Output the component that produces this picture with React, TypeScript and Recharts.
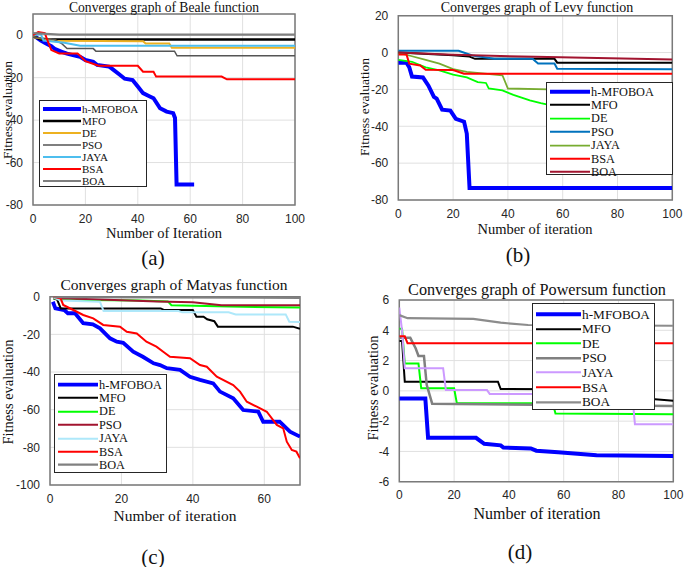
import React from "react";
import {
  CartesianGrid,
  Legend,
  Line,
  LineChart,
  ReferenceArea,
  XAxis,
  YAxis,
} from "recharts";

type Pt = [number, number];

const ALGOS = ["h-MFOBOA", "MFO", "DE", "PSO", "JAYA", "BSA", "BOA"];

// (a) Beale
const bealeHybrid: Pt[] = [[0, 0], [1, -0.8], [3, -2.5], [5, -3.9], [7, -5.2], [8.5, -6.6], [11, -7.8], [13, -8.7], [16, -9.6], [18, -10.2], [20, -11.7], [23, -12.5], [24.5, -14], [29, -14.8], [30, -15.6], [33, -18.5], [35, -20.5], [38, -21.1], [40, -24.2], [42, -27.3], [44, -28.5], [46, -29.7], [48.5, -34.4], [51, -36], [53.5, -36.7], [54.2, -39], [54.8, -70.3], [61.5, -70.3]];
const bealeMfo: Pt[] = [[0, -0.5], [3, -2], [100, -2]];
const bealeDe: Pt[] = [[0, -1], [5, -1.8], [9, -2.6], [42, -2.8], [43, -3.9], [52, -3.9], [53, -5.9], [100, -5.9]];
const bealePso: Pt[] = [[0, -1], [8, -2], [11, -4], [13, -6.3], [23, -6.3], [24, -7.5], [54, -7.5], [55, -9.7], [100, -9.7]];
const bealeJaya: Pt[] = [[0, 0], [3, 0.5], [4, -2.5], [12, -3.5], [16, -4.5], [18, -5], [100, -5]];
const bealeBsa: Pt[] = [[0, 0], [2, 1.5], [4.5, 1], [6, -4], [7, -7], [10, -8.6], [17, -8.6], [18, -9.7], [20, -12.2], [25, -14.4], [40, -14.4], [42, -17.2], [46, -17.2], [47, -19.5], [72, -19.5], [74, -20.8], [100, -20.8]];
const bealeBoa: Pt[] = [[0, 1], [10, 0.3], [100, 0.3]];

// (b) Levy
const levyHybrid: Pt[] = [[0, -5.5], [3, -5.5], [4, -8], [5, -13], [9, -13.5], [11, -18], [13, -24], [14, -25], [16, -31], [19, -31.5], [21, -36], [24, -37.5], [25, -44], [26, -73.5], [100, -73.5]];
const levyMfo: Pt[] = [[0, 0], [20, -1.5], [26, -2.2], [28, -3.4], [57, -3.4], [58, -5.5], [100, -5.5]];
const levyDe: Pt[] = [[0, -4], [5, -5], [10, -8], [15, -9.7], [20, -12], [25, -13.5], [29, -16], [32, -16.5], [33, -19.5], [38, -20.5], [42, -23], [45, -24.5], [48, -26], [52, -27.5], [60, -30], [70, -35], [80, -40], [90, -44], [96, -45], [98, -47], [100, -47.5]];
const levyPso: Pt[] = [[0, 1], [22, 1], [27, -1.6], [35, -3.4], [49, -3.4], [51, -6], [57, -6], [58, -8.8], [100, -9]];
const levyJaya: Pt[] = [[0, 0], [5, -2], [10, -4], [15, -6], [20, -9], [25, -10.5], [38, -12.3], [40, -19.5], [55, -20], [70, -25], [85, -30], [93, -33.5], [95, -36], [100, -36]];
const levyBsa: Pt[] = [[0, -1], [3, -1], [4, -6], [8, -7], [10, -9.3], [20, -9.5], [24, -11.5], [100, -11.5]];
const levyBoa: Pt[] = [[0, 0], [20, -1.2], [50, -2.3], [100, -3.7]];

// (c) Matyas
const matyasHybrid: Pt[] = [[0.8, -2.7], [1.5, -6.2], [4, -7.1], [5, -8.8], [7, -8.8], [9.3, -14.1], [12, -14.7], [14, -16.8], [16.8, -22.1], [18.7, -23.9], [20.5, -24.5], [23.3, -29.2], [26, -31.9], [29, -35.4], [30.8, -36.3], [32.7, -38], [36.4, -38.9], [39.2, -42.5], [42, -44.2], [45.7, -46], [47.6, -50.4], [51.3, -54], [54.1, -60.2], [58.3, -61], [59.7, -66.4], [64.3, -66.4], [67.2, -71.7], [69, -73.4], [70, -74.3]];
const matyasMfo: Pt[] = [[1, -1], [2, -1.5], [3, -6.2], [31, -6.2], [32, -7.1], [40, -7.1], [41, -10.6], [43, -10.6], [44, -12], [46, -13], [47, -15.9], [68, -15.9], [70, -17]];
const matyasDe: Pt[] = [[1, -1], [10, -1.8], [25, -2], [33, -2.5], [34, -4.5], [50, -5.2], [70, -5.8]];
const matyasPso: Pt[] = [[1, -0.8], [10, -1.2], [30, -2.5], [40, -3], [48, -4.6], [70, -4.6]];
const matyasJaya: Pt[] = [[1, -0.5], [3, -2], [14, -2.7], [15, -7.6], [36, -7.6], [37, -8.3], [50, -8.3], [52, -9.4], [66, -9.4], [67, -13.3], [70, -13.5]];
const matyasBsa: Pt[] = [[1, 0], [3, -1], [3.7, -4.4], [7.5, -8], [9.3, -9.7], [12.1, -11.5], [14.9, -15], [19.6, -15.9], [21.5, -18.6], [24.3, -19.5], [27, -23.9], [29.8, -26.5], [31.7, -29.2], [33.6, -31.9], [39.2, -32.7], [42, -36.3], [43.9, -37.2], [46.7, -42.5], [51.3, -46.9], [53.2, -50.4], [55.1, -55.8], [57.9, -58.4], [60.7, -61.1], [63.5, -68.1], [65.3, -69.9], [66.3, -77], [67.7, -81.4], [69, -82.3], [70, -85.8]];
const matyasBoa: Pt[] = [[1, -0.3], [70, -0.6]];

// (d) Powersum
const powHybrid: Pt[] = [[0, -0.5], [9.5, -0.5], [10.5, -3.1], [28, -3.1], [31, -3.5], [37, -3.6], [38, -3.75], [48, -3.8], [50, -3.95], [58, -4.05], [65, -4.15], [72, -4.25], [100, -4.3]];
const powMfo: Pt[] = [[0, 3.3], [1, 3.3], [2, 0.6], [36, 0.6], [37, 0.12], [60, 0.1], [75, -0.3], [90, -0.5], [100, -0.65]];
const powDe: Pt[] = [[0, 4.1], [1, 4.1], [2, 1.8], [7, 1.8], [8, 0.17], [20, 0.17], [21, -0.82], [56, -0.82], [57, -1.5], [100, -1.55]];
const powPso: Pt[] = [[0, 3.5], [4, 3.5], [6, 2.8], [7, 2.3], [9, 2.3], [10, 0.4], [12, -0.85], [100, -1.0]];
const powJaya: Pt[] = [[0, 5.5], [1, 4], [2, 1.5], [16, 1.5], [17, 0.05], [32, 0.05], [33, -0.2], [85, -0.2], [86, -2.2], [100, -2.2]];
const powBsa: Pt[] = [[0, 3.6], [2, 3.6], [3, 3.15], [100, 3.15]];
const powBoa: Pt[] = [[0, 5], [3, 4.8], [27, 4.75], [37, 4.5], [47, 4.35], [100, 4.3]];

const xTicks100 = [0, 20, 40, 60, 80, 100];
const xTicks70 = [0, 20, 40, 60];
const yTicksA = [-80, -60, -40, -20, 0];
const yTicksB = [-80, -60, -40, -20, 0, 20];
const yTicksC = [-100, -80, -60, -40, -20, 0];
const yTicksD = [-6, -4, -2, 0, 2, 4, 6];

const SERIF = "'Liberation Serif', 'Times New Roman', serif";
const SANS = "'Liberation Sans', Arial, sans-serif";
const Y_W = 30;
const X_H = 20;

type Series = { pts: Pt[]; color: string; w: number };
type Rect = { l: number; t: number; w: number; h: number };

function toXY(pts: Pt[]) {
  return pts.map(([x, y]) => ({ x, y }));
}

function mk(pts: Pt[][], colors: string[], widths: number[]): Series[] {
  return pts.map((p, i) => ({ pts: p, color: colors[i], w: widths[i] }));
}

const panels = [
  {
    box: { l: 0, t: 0, w: 340, h: 285 },
    plot: { l: 33, r: 295, t: 14, b: 205 },
    xDomain: [0, 100], xTicks: xTicks100, yDomain: [-80, 10], yTicks: yTicksA,
    series: mk(
      [bealeHybrid, bealeMfo, bealeDe, bealePso, bealeJaya, bealeBsa, bealeBoa],
      ["#0000ff", "#000000", "#edb120", "#555555", "#4dbeee", "#ff0000", "#7f7f7f"],
      [4, 2.5, 2, 1.5, 2, 2, 2.2]
    ),
    legend: { l: 39, t: 100, w: 108, h: 87, rowH: 12, lineW: 38, font: 11, pad: 2 },
  },
  {
    box: { l: 340, t: 0, w: 345, h: 285 },
    plot: { l: 398.3, r: 672.3, t: 15.7, b: 200 },
    xDomain: [0, 100], xTicks: xTicks100, yDomain: [-80, 20], yTicks: yTicksB,
    series: mk(
      [levyHybrid, levyMfo, levyDe, levyPso, levyJaya, levyBsa, levyBoa],
      ["#0000ff", "#000000", "#00ff00", "#0072bd", "#77ac30", "#ff0000", "#a2142f"],
      [4, 2, 1.8, 2, 1.8, 2, 2]
    ),
    legend: { l: 546, t: 82, w: 127, h: 93, rowH: 13.4, lineW: 40, font: 12.3, pad: 2 },
  },
  {
    box: { l: 0, t: 285, w: 340, h: 282 },
    plot: { l: 50, r: 300, t: 296.7, b: 485 },
    xDomain: [0, 70], xTicks: xTicks70, yDomain: [-100, 0], yTicks: yTicksC,
    series: mk(
      [matyasHybrid, matyasMfo, matyasDe, matyasPso, matyasJaya, matyasBsa, matyasBoa],
      ["#0000ff", "#000000", "#00ff00", "#a2142f", "#aee8fa", "#ff0000", "#808080"],
      [3.8, 2, 2, 2, 2, 2, 2.2]
    ),
    legend: { l: 54, t: 374, w: 113, h: 99, rowH: 13.4, lineW: 40, font: 12.3, pad: 3 },
  },
  {
    box: { l: 340, t: 285, w: 345, h: 282 },
    plot: { l: 399.3, r: 673.3, t: 300, b: 481.7 },
    xDomain: [0, 100], xTicks: xTicks100, yDomain: [-6, 6], yTicks: yTicksD,
    series: mk(
      [powHybrid, powMfo, powDe, powPso, powJaya, powBsa, powBoa],
      ["#0000ff", "#000000", "#00ff00", "#808080", "#cc99ff", "#ff0000", "#8c8c8c"],
      [4, 2, 2, 2.5, 2, 2, 2.2]
    ),
    legend: { l: 532, t: 303, w: 123, h: 107, rowH: 14.6, lineW: 45, font: 13.3, pad: 3 },
  },
];

const texts = [
  { s: "Converges graph of Beale function", x: 164, y: 7.5, f: 13.6 },
  { s: "Converges graph of Levy function", x: 537, y: 8, f: 14 },
  { s: "Converges graph of Matyas function", x: 174, y: 285, f: 15.5 },
  { s: "Converges graph of Powersum function", x: 537, y: 290, f: 16.2 },
  { s: "Number of Iteration", x: 164, y: 233, f: 14.5 },
  { s: "Number of iteration", x: 535, y: 229, f: 14.5 },
  { s: "Number of iteration", x: 175, y: 516, f: 15.5 },
  { s: "Number of iteration", x: 537, y: 514, f: 16 },
  { s: "(a)", x: 153, y: 258, f: 21 },
  { s: "(b)", x: 518, y: 255, f: 21 },
  { s: "(c)", x: 153, y: 557, f: 21 },
  { s: "(d)", x: 520, y: 552, f: 21 },
];

const yLabels = [
  { x: 8, y: 110, f: 13.5 },
  { x: 365, y: 107, f: 13.5 },
  { x: 8, y: 392, f: 14.5 },
  { x: 373, y: 388, f: 14.5 },
];

function LegendBox({ series, cfg }: { series: Series[]; cfg: any }) {
  return (
    <div
      style={{
        width: cfg.w,
        height: cfg.h,
        boxSizing: "border-box",
        border: "1px solid #262626",
        background: "#fff",
        paddingTop: cfg.pad,
        paddingLeft: 3,
      }}
    >
      {series.map((s, i) => (
        <div key={ALGOS[i]} style={{ display: "flex", alignItems: "center", height: cfg.rowH }}>
          <svg width={cfg.lineW} height={cfg.rowH} style={{ flex: "none" }}>
            <line x1={0} x2={cfg.lineW} y1={cfg.rowH / 2} y2={cfg.rowH / 2} stroke={s.color} strokeWidth={s.w} />
          </svg>
          <span
            style={{
              fontFamily: SERIF,
              fontSize: cfg.font,
              lineHeight: 1,
              marginLeft: 1,
              color: "#111",
              whiteSpace: "nowrap",
            }}
          >
            {ALGOS[i]}
          </span>
        </div>
      ))}
    </div>
  );
}

function Panel({ p }: { p: (typeof panels)[number] }) {
  const b: Rect = p.box;
  const margin = {
    top: p.plot.t - b.t,
    right: b.l + b.w - p.plot.r,
    bottom: b.t + b.h - p.plot.b - X_H,
    left: p.plot.l - b.l - Y_W,
  };
  const tick = { fontSize: 12, fill: "#262626", fontFamily: SANS };
  return (
    <div style={{ position: "absolute", left: b.l, top: b.t }}>
      <LineChart width={b.w} height={b.h} margin={margin}>
        <CartesianGrid stroke="#e0e0e0" strokeWidth={1} />
        <XAxis
          type="number"
          dataKey="x"
          domain={p.xDomain}
          ticks={p.xTicks}
          allowDataOverflow
          height={X_H}
          tick={tick}
          tickLine={false}
          axisLine={false}
          tickMargin={3}
        />
        <YAxis
          type="number"
          dataKey="y"
          domain={p.yDomain}
          ticks={p.yTicks}
          allowDataOverflow
          width={Y_W}
          tick={tick}
          tickLine={false}
          axisLine={false}
          tickMargin={4}
        />
        {p.series.map((s, i) => (
          <Line
            key={ALGOS[i]}
            name={ALGOS[i]}
            data={toXY(s.pts)}
            dataKey="y"
            type="linear"
            stroke={s.color}
            strokeWidth={s.w}
            dot={false}
            isAnimationActive={false}
          />
        ))}
        <ReferenceArea
          x1={p.xDomain[0]}
          x2={p.xDomain[1]}
          y1={p.yDomain[0]}
          y2={p.yDomain[1]}
          fill="none"
          stroke="#7a7a7a"
          strokeWidth={1.5}
        />
        <Legend
          layout="vertical"
          align="center"
          verticalAlign="middle"
          wrapperStyle={{ left: p.legend.l - b.l, top: p.legend.t - b.t, width: p.legend.w }}
          content={() => <LegendBox series={p.series} cfg={p.legend} />}
        />
      </LineChart>
    </div>
  );
}

export default function App() {
  return (
    <div
      style={{
        position: "absolute",
        left: 0,
        top: 0,
        width: 685,
        height: 567,
        background: "#fff",
        overflow: "hidden",
      }}
    >
      {panels.map((p, i) => (
        <Panel key={i} p={p} />
      ))}
      {texts.map((t, i) => (
        <div
          key={"t" + i}
          style={{
            position: "absolute",
            left: t.x,
            top: t.y,
            transform: "translate(-50%, -50%)",
            fontFamily: SERIF,
            fontSize: t.f,
            lineHeight: 1,
            whiteSpace: "nowrap",
            color: "#111",
          }}
        >
          {t.s}
        </div>
      ))}
      {yLabels.map((t, i) => (
        <div
          key={"y" + i}
          style={{
            position: "absolute",
            left: t.x,
            top: t.y,
            transform: "translate(-50%, -50%) rotate(-90deg)",
            fontFamily: SERIF,
            fontSize: t.f,
            lineHeight: 1,
            whiteSpace: "nowrap",
            color: "#111",
          }}
        >
          Fitness evaluation
        </div>
      ))}
    </div>
  );
}
